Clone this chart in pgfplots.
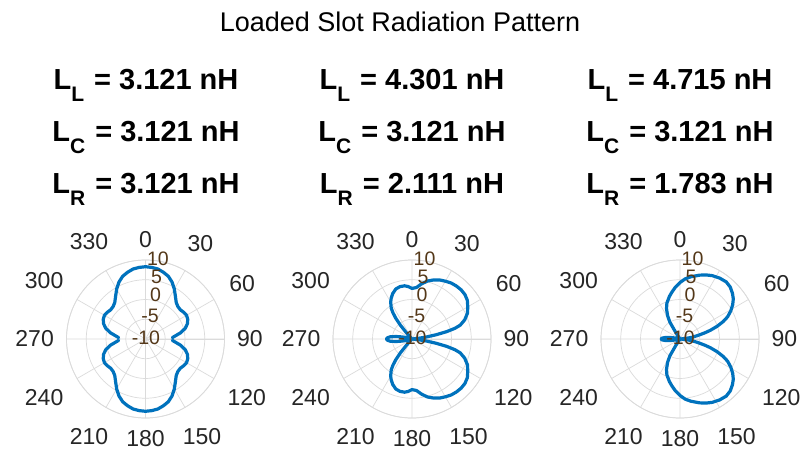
\documentclass[border=0pt]{standalone}
\usepackage{fontspec}
\setmainfont{Liberation Sans}
\usepackage{pgfplots}
\usepackage{pgfplotstable}
\pgfplotsset{compat=1.18}
\usepgfplotslibrary{polar}

\definecolor{matblue}{rgb}{0,0.447,0.741}
\definecolor{axgray}{rgb}{0.15,0.15,0.15}
\definecolor{gridgray}{rgb}{0.86,0.86,0.86}
\definecolor{rcol}{rgb}{0.33,0.22,0.10}

% Pattern 1 (L_L = L_R): nulls at 90 and 270 deg break the trace in two
\pgfplotstableread{
th db
-87 -3.2
-84 -2.4
-80 -1.0
-75 0.4
-70 1.3
-65 1.8
-60 2.0
-55 1.8
-50 1.5
-45 1.6
-40 2.1
-35 3.2
-30 4.6
-25 5.9
-20 6.9
-15 7.5
-10 8.0
-5 8.2
0 8.3
5 8.2
10 8.0
15 7.5
20 6.9
25 5.9
30 4.6
35 3.2
40 2.1
45 1.6
50 1.5
55 1.8
60 2.0
65 1.8
70 1.3
75 0.4
80 -1.0
84 -2.4
87 -3.2
}\patAtop
\pgfplotstableread{
th db
93 -3.2
96 -2.4
100 -1.0
105 0.4
110 1.3
115 1.8
120 2.0
125 1.8
130 1.5
135 1.6
140 2.1
145 3.2
150 4.6
155 5.9
160 6.9
165 7.5
170 8.0
175 8.2
180 8.3
185 8.2
190 8.0
195 7.5
200 6.9
205 5.9
210 4.6
215 3.2
220 2.1
225 1.6
230 1.5
235 1.8
240 2.0
245 1.8
250 1.3
255 0.4
260 -1.0
264 -2.4
267 -3.2
}\patAbot

% Pattern 2 (L_L = 4.301 nH, L_R = 2.111 nH)
\pgfplotstableread{
th db
-90 -3.5
-87 -3.8
-84 -4.5
-81 -6.0
-78 -7.5
-74 -9.0
-70 -10
-44 -10
-42 -8.0
-40 -5.5
-38 -3.3
-36 -1.8
-34 -0.6
-30 0.8
-27 1.6
-23 2.5
-18 3.3
-13 3.6
-8 3.6
-4 3.3
0 2.8
5 3.1
10 4.2
15 5.2
20 5.9
25 6.5
30 6.9
35 7.3
40 7.5
45 7.6
50 7.5
55 7.1
60 6.3
65 5.5
70 4.2
74 2.7
76 1.2
78 -1.0
80 -3.8
82 -6.3
84 -8.5
86 -10
90 -10
94 -10
96 -8.5
98 -6.3
100 -3.8
102 -1.0
104 1.2
106 2.7
110 4.2
115 5.5
120 6.3
125 7.1
130 7.5
135 7.6
140 7.5
145 7.3
150 6.9
155 6.5
160 5.9
165 5.2
170 4.2
175 3.1
180 2.8
184 3.3
188 3.6
193 3.6
198 3.3
203 2.5
207 1.6
210 0.8
214 -0.6
216 -1.8
218 -3.3
220 -5.5
222 -8.0
224 -10
250 -10
254 -9.0
258 -7.5
261 -6.0
264 -4.5
267 -3.8
270 -3.5
}\patB

% Pattern 3 (L_L = 4.715 nH, L_R = 1.783 nH)
\pgfplotstableread{
th db
-90 -5.2
-87 -5.5
-84 -6.3
-81 -7.5
-77 -9.0
-73 -10
-35 -10
-33 -8.0
-31 -5.0
-28 -3.3
-24 -1.6
-20 -0.3
-14 1.1
-10 2.0
-5 3.2
0 4.3
5 5.3
10 6.0
17 6.9
22 7.5
27 8.0
33 8.4
39 8.6
44 8.3
49 7.6
53 6.9
57 5.9
61 4.7
65 3.3
68 1.8
71 0.0
74 -2.0
76 -3.5
79 -5.5
82 -7.0
85 -8.7
88 -10
90 -10
92 -10
95 -8.7
98 -7.0
101 -5.5
104 -3.5
106 -2.0
109 0.0
112 1.8
115 3.3
119 4.7
123 5.9
127 6.9
131 7.6
136 8.3
141 8.6
147 8.4
153 8.0
158 7.5
163 6.9
170 6.0
175 5.3
180 4.3
185 3.2
190 2.0
194 1.1
200 -0.3
204 -1.6
208 -3.3
211 -5.0
213 -8.0
215 -10
253 -10
257 -9.0
261 -7.5
264 -6.3
267 -5.5
270 -5.2
}\patC

\pgfplotsset{
  slotpolar/.style={
    width=158pt, height=158pt, scale only axis,
    anchor=center,
    xmin=0, xmax=360, ymin=0, ymax=20,
    xtick={0,30,...,330},
    xticklabels={90,60,30,0,330,300,270,240,210,180,150,120},
    ytick={5,10,15,20},
    yticklabels={},
    grid=major,
    major grid style={gridgray, line width=0.7pt},
    axis line style={gridgray, line width=0.7pt},
    tick style={draw=none},
    xticklabel style={font=\fontsize{23}{23}\selectfont, text=axgray, inner sep=12.5pt},
    % compass convention: 0 deg at the top, angles increase clockwise
    x filter/.expression={90-x},
    % radial axis runs from -10 dB (centre) to 10 dB (rim)
    y filter/.expression={max(y+10,0)},
  },
  pattern/.style={matblue, line width=3.2pt, line join=round, line cap=round, no marks},
}

% radial tick labels, stacked just right of the 0 deg spoke
\newcommand\rlabels[2]{%
  \begin{scope}[shift={(#1pt,#2pt)}, every node/.style={font=\fontsize{19.5}{19.5}\selectfont, text=rcol, inner sep=0pt, text height=14pt, text depth=0pt}]
    \node at (12.5pt,81pt) {10};
    \node at (11pt,62.5pt) {5};
    \node at (10pt,45pt) {0};
    \node at (4.5pt,24pt) {-5};
    \node at (0.5pt,1.5pt) {-10};
  \end{scope}}

\newcommand\ltitle[4]{%
  \node[anchor=base, inner sep=0pt, font=\fontsize{29}{29}\selectfont\bfseries] at (#1pt,#2pt)
    {L\raisebox{-12pt}{\fontsize{21}{21}\selectfont\bfseries #3}\hspace{2pt} = #4 nH};}

\begin{document}
\begin{tikzpicture}
\useasboundingbox (0,0) rectangle (801pt,459pt);
\fill[white] (0,0) rectangle (801pt,459pt);

\node[anchor=base, inner sep=0pt, font=\fontsize{27}{27}\selectfont] at (400pt,427pt) {Loaded Slot Radiation Pattern};

\ltitle{146}{370}{L}{3.121}
\ltitle{146}{318}{C}{3.121}
\ltitle{146}{266}{R}{3.121}
\ltitle{412}{370}{L}{4.301}
\ltitle{412}{318}{C}{3.121}
\ltitle{412}{266}{R}{2.111}
\ltitle{680}{370}{L}{4.715}
\ltitle{680}{318}{C}{3.121}
\ltitle{680}{266}{R}{1.783}

\begin{polaraxis}[slotpolar, at={(145.5pt,120pt)}]
  \addplot[pattern] table[x=th, y=db] {\patAtop};
  \addplot[pattern] table[x=th, y=db] {\patAbot};
\end{polaraxis}
\begin{polaraxis}[slotpolar, at={(412pt,120pt)}]
  \addplot[pattern] table[x=th, y=db] {\patB};
\end{polaraxis}
\begin{polaraxis}[slotpolar, at={(680pt,120pt)}]
  \addplot[pattern] table[x=th, y=db] {\patC};
\end{polaraxis}

\rlabels{145.5}{120}
\rlabels{412}{120}
\rlabels{680}{120}
\end{tikzpicture}
\end{document}
